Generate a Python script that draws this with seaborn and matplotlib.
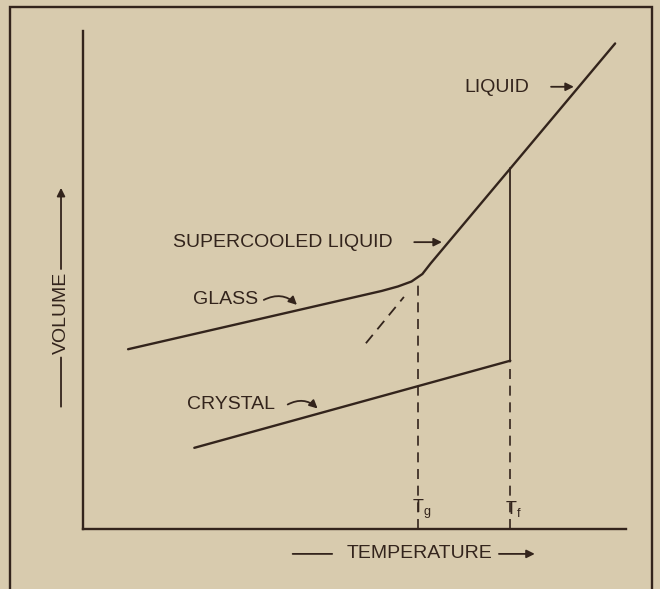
import numpy as np
import pandas as pd
import matplotlib
matplotlib.use("Agg")
import matplotlib.pyplot as plt
import seaborn as sns
from matplotlib.patches import Rectangle

# volume-temperature curve (arbitrary units, 0-100 on both axes)
curve_t = [8.3, 55.0, 58.0, 60.5, 62.5, 64.0, 78.7, 98.0]
curve_v = [36.1, 47.8, 48.7, 49.7, 51.2, 53.3, 72.4, 97.5]

crystal_t = [20.5, 78.7]
crystal_v = [16.3, 33.8]

# dashed extrapolation of the supercooled liquid
extrap_t = [52.1, 59.1]
extrap_v = [37.3, 46.6]

tg = 61.7
tf = 78.7
tg_top = 50.2
tf_top = 72.4
tf_crystal = 33.8

paper = "#d8cbae"
ink = "#33241c"

sns.set_theme(style="white")
plt.rcParams["font.family"] = ["Liberation Sans", "DejaVu Sans"]
plt.rcParams["mathtext.fontset"] = "custom"
plt.rcParams["mathtext.rm"] = "Liberation Sans"

fig = plt.figure(figsize=(6.6, 5.89), dpi=100)
fig.patch.set_facecolor(paper)
ax = fig.add_axes([83 / 660, 60 / 589, 543 / 660, 498 / 589])
ax.set_facecolor(paper)

sns.lineplot(x=curve_t, y=curve_v, sort=False, estimator=None, color=ink, lw=1.7, ax=ax)
sns.lineplot(x=crystal_t, y=crystal_v, sort=False, estimator=None, color=ink, lw=1.7, ax=ax)
sns.lineplot(x=extrap_t, y=extrap_v, sort=False, estimator=None, color=ink, lw=1.3,
             linestyle=(0, (6, 4)), ax=ax)

# Tg and Tf markers
ax.plot([tg, tg], [0, tg_top], color=ink, lw=1.2, linestyle=(0, (6, 4)))
ax.plot([tf, tf], [tf_crystal, tf_top], color=ink, lw=1.3)
ax.plot([tf, tf], [0, tf_crystal], color=ink, lw=1.2, linestyle=(0, (6, 4)))

ax.set_xlim(0, 100)
ax.set_ylim(0, 100)
ax.set_xticks([])
ax.set_yticks([])
sns.despine(ax=ax)
for s in ["left", "bottom"]:
    ax.spines[s].set_color(ink)
    ax.spines[s].set_linewidth(1.7)

fs = 14
arrow = dict(arrowstyle="-|>", color=ink, lw=1.3, mutation_scale=12, shrinkA=0, shrinkB=0)

ax.text(76.3, 88.6, "LIQUID", fontsize=fs, color=ink, ha="center", va="center")
ax.annotate("", xy=(90.4, 88.8), xytext=(86.2, 88.8), arrowprops=arrow)

ax.text(36.8, 57.5, "SUPERCOOLED LIQUID", fontsize=fs, color=ink, ha="center", va="center")
ax.annotate("", xy=(66.1, 57.6), xytext=(61.0, 57.6), arrowprops=arrow)

ax.text(26.3, 46.1, "GLASS", fontsize=fs, color=ink, ha="center", va="center")
ax.annotate("", xy=(39.4, 45.0), xytext=(33.3, 46.0),
            arrowprops=dict(arrow, connectionstyle="arc3,rad=-0.35"))

ax.text(27.3, 25.0, "CRYSTAL", fontsize=fs, color=ink, ha="center", va="center")
ax.annotate("", xy=(43.2, 24.2), xytext=(37.7, 25.0),
            arrowprops=dict(arrow, connectionstyle="arc3,rad=-0.35"))

ax.text(tg + 0.7, 4.0, r"T$_\mathrm{g}$", fontsize=13, color=ink, ha="center", va="center")
ax.text(tf + 0.6, 4.0, r"T$_\mathrm{f}$", fontsize=13, color=ink, ha="center", va="center")

# axis captions with arrows
ax.text(61.9, -5.0, "TEMPERATURE", fontsize=fs, color=ink, ha="center", va="center", clip_on=False)
ax.annotate("", xy=(46.4, -5.0), xytext=(38.1, -5.0), annotation_clip=False,
            arrowprops=dict(arrowstyle="-", color=ink, lw=1.3))
ax.annotate("", xy=(83.2, -5.0), xytext=(76.6, -5.0), annotation_clip=False, arrowprops=arrow)

ax.text(-4.05, 43.4, "VOLUME", fontsize=fs, color=ink, ha="center", va="center",
        rotation=90, clip_on=False)
ax.annotate("", xy=(-4.05, 24.0), xytext=(-4.05, 35.0), annotation_clip=False,
            arrowprops=dict(arrowstyle="-", color=ink, lw=1.3))
ax.annotate("", xy=(-4.05, 68.5), xytext=(-4.05, 52.2), annotation_clip=False, arrowprops=arrow)

# outer frame of the figure box
fig.add_artist(Rectangle((9.5 / 660, -0.05), (651.5 - 9.5) / 660, 1.05 - 7 / 589,
                         transform=fig.transFigure, fill=False, edgecolor=ink, lw=1.7))

fig.savefig("out.png", dpi=100, facecolor=fig.get_facecolor())
